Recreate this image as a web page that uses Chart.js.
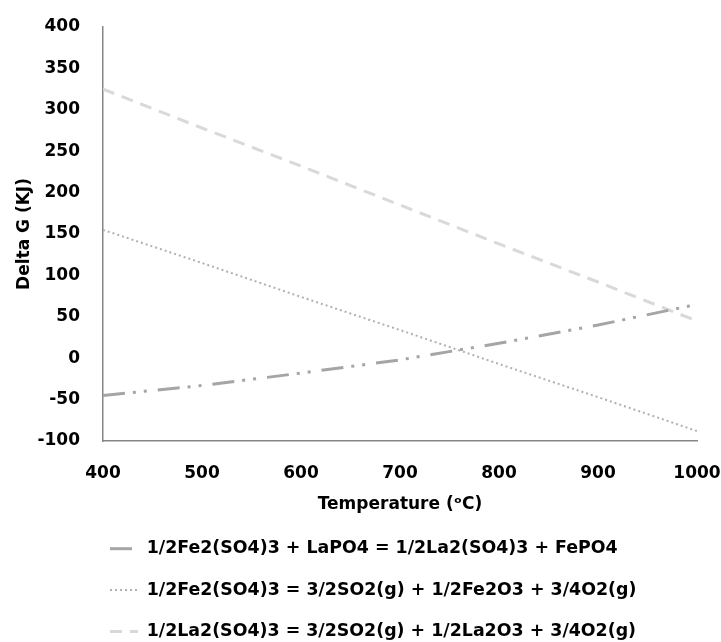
<!DOCTYPE html>
<html>
<head>
<meta charset="utf-8">
<title>Delta G vs Temperature</title>
<script src="https://cdn.jsdelivr.net/npm/chart.js@4.4.0/dist/chart.umd.min.js"></script>
<style>
    body { margin: 0; background: #fff; }
    #wrap { width: 721px; height: 642px; }
</style>
</head>
<body>
<div id="wrap"><canvas id="deltaChart" width="721" height="642"></canvas></div>
<script>
// Temperatures (ºC) and Delta G values (kJ)
const temperatures = [400, 500, 600, 700, 800, 900, 1000];
const exchangeValues = [-45, -33, -18, -2, 18, 40, 65];
const feDecompValues = [155, 115, 74, 34, -7, -47, -88];
const laDecompValues = [325, 278, 232, 185, 138, 92, 45];

const seriesLabels = [
    '1/2Fe2(SO4)3 + LaPO4 = 1/2La2(SO4)3 + FePO4',
    '1/2Fe2(SO4)3 = 3/2SO2(g) + 1/2Fe2O3 + 3/4O2(g)',
    '1/2La2(SO4)3 = 3/2SO2(g) + 1/2La2O3 + 3/4O2(g)'
];

const FONT = '"DejaVu Sans", sans-serif';

function toPoints(values) {
    return temperatures.map((t, i) => ({ x: t, y: values[i] }));
}

// Put the legend rows where the original has them (left aligned under the plot)
const legendShift = {
    id: 'legendShift',
    afterLayout(chart) {
        chart.legend.left = 86;
        chart.legend.top = 516;
    }
};

const ctx = document.getElementById('deltaChart').getContext('2d');
new Chart(ctx, {
    type: 'line',
    data: {
        datasets: [
            {
                label: seriesLabels[0],
                data: toPoints(exchangeValues),
                borderColor: '#a5a5a5',
                borderWidth: 3,
                borderDash: [22, 8, 3, 8, 3, 11],
                pointRadius: 0,
                fill: false
            },
            {
                label: seriesLabels[1],
                data: toPoints(feDecompValues),
                borderColor: '#b0b0b0',
                borderWidth: 2,
                borderDash: [2, 3],
                pointRadius: 0,
                fill: false
            },
            {
                label: seriesLabels[2],
                data: toPoints(laDecompValues),
                borderColor: '#d9d9d9',
                borderWidth: 3,
                borderDash: [12, 8],
                pointRadius: 0,
                fill: false
            }
        ]
    },
    options: {
        responsive: false,
        animation: false,
        layout: { padding: 0 },
        plugins: {
            legend: {
                position: 'bottom',
                align: 'start',
                maxHeight: 123,
                labels: {
                    usePointStyle: true,
                    pointStyle: 'line',
                    pointStyleWidth: 28,
                    padding: 24,
                    color: '#000',
                    font: { family: FONT, size: 17.4, weight: 'bold' },
                    // the point style drops the dash, so copy it from each dataset
                    generateLabels(chart) {
                        const items = Chart.defaults.plugins.legend.labels.generateLabels(chart);
                        items.forEach(item => {
                            const ds = chart.data.datasets[item.datasetIndex];
                            item.lineDash = ds.borderDash;
                            item.lineWidth = ds.borderWidth;
                            item.strokeStyle = ds.borderColor;
                        });
                        return items;
                    }
                }
            },
            tooltip: { enabled: false }
        },
        scales: {
            x: {
                type: 'linear',
                min: 400,
                max: 1000,
                border: { color: '#868686', width: 1.5 },
                grid: { display: false, drawTicks: false },
                ticks: {
                    stepSize: 100,
                    padding: 22,
                    color: '#000',
                    font: { family: FONT, size: 17, weight: 'bold' },
                    callback: value => String(value)
                },
                title: {
                    display: true,
                    text: 'Temperature (ᵒC)',
                    color: '#000',
                    font: { family: FONT, size: 17, weight: 'bold' },
                    padding: 4
                },
                afterFit(scale) {
                    scale.height = 78;
                    scale.paddingRight = 24;
                }
            },
            y: {
                min: -100,
                max: 400,
                border: { color: '#868686', width: 1.5 },
                grid: { display: false, drawTicks: false },
                ticks: {
                    stepSize: 50,
                    padding: 23,
                    color: '#000',
                    font: { family: FONT, size: 17, weight: 'bold' }
                },
                title: {
                    display: true,
                    text: 'Delta G (KJ)',
                    color: '#000',
                    font: { family: FONT, size: 17, weight: 'bold' },
                    padding: 14
                },
                afterFit(scale) {
                    scale.width = 103;
                    scale.paddingTop = 27;
                }
            }
        }
    },
    plugins: [legendShift]
});
</script>
</body>
</html>
